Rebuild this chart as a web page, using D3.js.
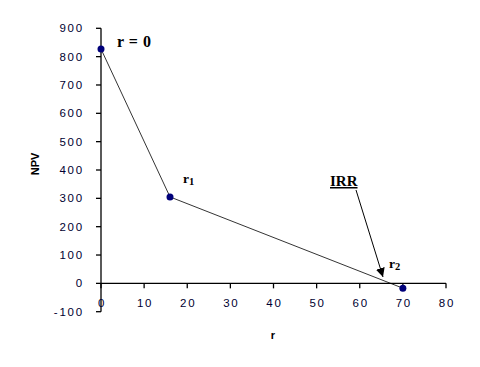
<!DOCTYPE html>
<html><head><meta charset="utf-8">
<script src="https://cdn.jsdelivr.net/npm/d3@7"></script>
<style>body{margin:0;background:#fff}</style>
</head><body>
<script>
const rates = [0, 16, 70];
const npv = [827, 305, -17];
const pointLabels = ["r = 0", "r", "r"];
const pointSubs = ["", "1", "2"];
const xTicks = [0,10,20,30,40,50,60,70,80];
const yTicks = [-100,0,100,200,300,400,500,600,700,800,900];

const W=480,H=367;
const svg=d3.select("body").append("svg").attr("width",W).attr("height",H);
const x=d3.scaleLinear().domain([0,80]).range([101,446]);
const y=d3.scaleLinear().domain([-100,900]).range([311.7,28.3]);

// y axis
svg.append("line").attr("x1",x(0)).attr("x2",x(0)).attr("y1",y(-100)).attr("y2",y(900)).attr("stroke","#000").attr("stroke-width",1.3);
svg.selectAll(".yt").data(yTicks).enter().append("line").attr("x1",x(0)-5).attr("x2",x(0)).attr("y1",d=>y(d)).attr("y2",d=>y(d)).attr("stroke","#000").attr("stroke-width",1.3);
svg.selectAll(".yl").data(yTicks).enter().append("text").attr("x",84).attr("y",d=>y(d)+4).attr("text-anchor","end")
 .attr("font-family","Liberation Sans, Arial, sans-serif").attr("font-size",11.5).attr("letter-spacing",1.8).attr("fill","#000030").text(d=>d);
// x axis at 0
svg.append("line").attr("x1",x(0)).attr("x2",x(80)).attr("y1",y(0)).attr("y2",y(0)).attr("stroke","#000").attr("stroke-width",1.3);
svg.selectAll(".xt").data(xTicks).enter().append("line").attr("x1",d=>x(d)).attr("x2",d=>x(d)).attr("y1",y(0)).attr("y2",y(0)+5).attr("stroke","#000").attr("stroke-width",1.3);
svg.selectAll(".xl").data(xTicks).enter().append("text").attr("x",d=>x(d)+1).attr("y",y(0)+24).attr("text-anchor","middle")
 .attr("font-family","Liberation Sans, Arial, sans-serif").attr("font-size",11.5).attr("letter-spacing",1.8).attr("fill","#000030").text(d=>d);

// axis titles
svg.append("text").attr("transform","translate(39,164) rotate(-90)").attr("text-anchor","middle")
 .attr("font-family","Liberation Sans, Arial, sans-serif").attr("font-weight","bold").attr("font-size",11).text("NPV");
svg.append("text").attr("x",273).attr("y",339).attr("text-anchor","middle")
 .attr("font-family","Liberation Sans, Arial, sans-serif").attr("font-weight","bold").attr("font-size",11).text("r");

// line
const pts=rates.map((r,i)=>[r,npv[i]]);
svg.append("path").attr("d",d3.line().x(d=>x(d[0])).y(d=>y(d[1]))(pts)).attr("fill","none").attr("stroke","#000").attr("stroke-width",0.8);
svg.selectAll(".pt").data(pts).enter().append("circle").attr("cx",d=>x(d[0])).attr("cy",d=>y(d[1])).attr("r",3.5).attr("fill","#00007a");

// point labels
const lblPos=[[117,47],[183,183],[389,268]];
pts.forEach((p,i)=>{
  const t=svg.append("text").attr("x",lblPos[i][0]).attr("y",lblPos[i][1])
   .attr("font-family","Liberation Serif, Times New Roman, serif").attr("font-weight","bold").attr("font-size",i===0?16:13.5)
   .attr("word-spacing",i===0?1:0).text(pointLabels[i]);
  if(pointSubs[i]) t.append("tspan").attr("dy",2).attr("font-size",10.5).text(pointSubs[i]);
});

// IRR annotation
svg.append("text").attr("x",330).attr("y",186).attr("font-family","Liberation Serif, Times New Roman, serif").attr("font-weight","bold").attr("font-size",15).attr("text-decoration","underline").text("IRR");
svg.append("defs").append("marker").attr("id","ah").attr("viewBox","0 0 10 10").attr("refX",10).attr("refY",5)
 .attr("markerWidth",9).attr("markerHeight",9).attr("markerUnits","userSpaceOnUse").attr("orient","auto")
 .append("path").attr("d","M0,0L10,5L0,10Z").attr("fill","#000");
svg.append("line").attr("x1",356).attr("y1",190).attr("x2",383).attr("y2",277).attr("stroke","#000").attr("stroke-width",1).attr("marker-end","url(#ah)");
</script>
</body></html>
